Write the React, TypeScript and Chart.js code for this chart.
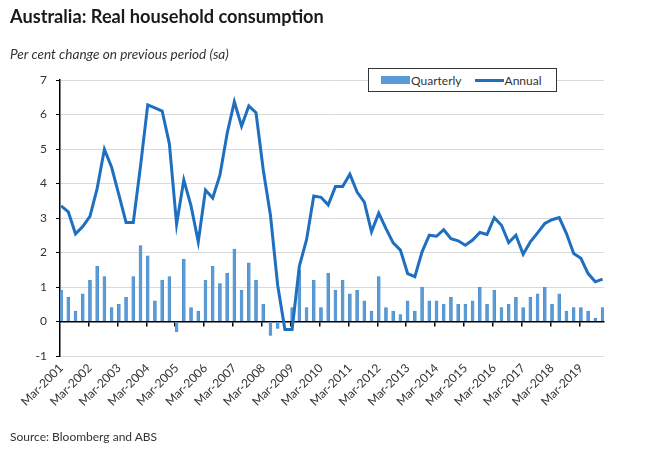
import React, { useEffect, useRef } from "react";
import Chart from "chart.js/auto";

// one label per year, shown under the first quarter of each year
const tickLabels = [
  "Mar-2001", "Mar-2002", "Mar-2003", "Mar-2004", "Mar-2005", "Mar-2006", "Mar-2007",
  "Mar-2008", "Mar-2009", "Mar-2010", "Mar-2011", "Mar-2012", "Mar-2013", "Mar-2014",
  "Mar-2015", "Mar-2016", "Mar-2017", "Mar-2018", "Mar-2019",
];
const months = ["Mar", "Jun", "Sep", "Dec"];
const quarters = tickLabels.flatMap((l) => months.map((m) => m + l.slice(3)));

// quarterly % change (bars)
const quarterly = [
  0.9, 0.7, 0.3, 0.8, 1.2, 1.6, 1.3, 0.4, 0.5, 0.7,
  1.3, 2.2, 1.9, 0.6, 1.2, 1.3, -0.3, 1.8, 0.4, 0.3,
  1.2, 1.6, 1.1, 1.4, 2.1, 0.9, 1.7, 1.2, 0.5, -0.4,
  -0.2, 0.0, 0.4, 1.5, 0.4, 1.2, 0.4, 1.4, 0.9, 1.2,
  0.8, 0.9, 0.6, 0.3, 1.3, 0.4, 0.3, 0.2, 0.6, 0.3,
  1.0, 0.6, 0.6, 0.5, 0.7, 0.5, 0.5, 0.6, 1.0, 0.5,
  0.9, 0.4, 0.5, 0.7, 0.4, 0.7, 0.8, 1.0, 0.5, 0.8,
  0.3, 0.4, 0.4, 0.3, 0.1, 0.4,
];

// annual % change (line)
const annual = [
  3.35, 3.18, 2.54, 2.75, 3.05, 3.86, 4.99, 4.47, 3.68, 2.87,
  2.87, 4.5, 6.28, 6.19, 6.1, 5.15, 2.82, 4.1, 3.35, 2.31,
  3.81, 3.58, 4.24, 5.45, 6.37, 5.66, 6.25, 6.05, 4.4, 3.08,
  1.05, -0.23, -0.23, 1.6, 2.37, 3.64, 3.6, 3.38, 3.91, 3.91,
  4.27, 3.75, 3.46, 2.6, 3.14, 2.69, 2.28, 2.07, 1.39, 1.3,
  2.02, 2.5, 2.47, 2.66, 2.4, 2.34, 2.21, 2.36, 2.58, 2.52,
  3.01, 2.79, 2.29, 2.5, 1.95, 2.31, 2.57, 2.84, 2.95, 3.01,
  2.55, 1.97, 1.83, 1.39, 1.15, 1.23,
];

const labelIdx = tickLabels.map((_, k) => k * 4);
const yearMarks = tickLabels.slice(1).map((_, k) => (k + 1) * 4 - 0.2);

const xMin = -0.15;
const xMax = 75.2;
const barBlue = "#5b9bd5";
const lineBlue = "#1f6fc0";
const textCol = "#333333";
const font = "Lato, 'Open Sans', sans-serif";

export default function App() {
  const canvasRef = useRef<HTMLCanvasElement | null>(null);

  useEffect(() => {
    if (!canvasRef.current) return;
    const chart = new Chart(canvasRef.current, {
      type: "bar",
      data: {
        datasets: [
          {
            type: "line",
            label: "Annual",
            data: annual.map((v, i) => ({ x: i, y: v })),
            borderColor: lineBlue,
            borderWidth: 3,
            pointRadius: 0,
            tension: 0,
            order: 1,
          },
          {
            type: "bar",
            label: "Quarterly",
            data: quarterly.map((v, i) => ({ x: i, y: v })),
            backgroundColor: barBlue,
            borderColor: "#4a8bc9",
            borderWidth: 0.5,
            barThickness: 3,
            order: 2,
          },
        ] as any,
      },
      options: {
        responsive: false,
        animation: false,
        layout: { padding: { top: 80, right: 46, left: 0, bottom: 0 } },
        plugins: { legend: { display: false }, tooltip: { enabled: false } },
        scales: {
          x: {
            type: "linear",
            min: xMin,
            max: xMax,
            offset: false,
            grid: { display: false, drawTicks: false, offset: false },
            border: { display: false },
            afterBuildTicks: (s: any) => {
              s.ticks = labelIdx.map((v) => ({ value: v }));
            },
            afterFit: (s: any) => {
              s.height = 99;
            },
            ticks: {
              autoSkip: false,
              maxRotation: 45,
              minRotation: 45,
              padding: 5,
              color: textCol,
              font: { family: font, size: 12 },
              callback: (v: any) => quarters[Number(v)],
            },
          },
          xz: {
            type: "linear",
            min: xMin,
            max: xMax,
            offset: false,
            position: { y: 0 },
            afterBuildTicks: (s: any) => {
              s.ticks = yearMarks.map((v) => ({ value: v }));
            },
            ticks: { display: false },
            grid: {
              drawOnChartArea: false,
              drawTicks: true,
              tickLength: 4,
              color: "#000",
              lineWidth: 1.5,
              offset: false,
            },
            border: { color: "#000", width: 1.5 },
          },
          y: {
            min: -1,
            max: 7,
            ticks: {
              stepSize: 1,
              padding: 9,
              color: textCol,
              font: { family: font, size: 12 },
            },
            grid: { color: "#d9d9d9", lineWidth: 1, tickColor: "#000", tickLength: 4 },
            border: { color: "#000", width: 1.5 },
            afterFit: (s: any) => {
              s.width = 60;
            },
          },
        } as any,
      },
    });
    return () => chart.destroy();
  }, []);

  return (
    <div
      style={{
        position: "absolute",
        left: 0,
        top: 0,
        width: 650,
        height: 455,
        background: "#fff",
        fontFamily: font,
        color: textCol,
      }}
    >
      <canvas
        ref={canvasRef}
        width={650}
        height={455}
        style={{ position: "absolute", left: 0, top: 0 }}
      />
      <div
        style={{
          position: "absolute",
          left: 10,
          top: 5,
          fontSize: 18.2,
          fontWeight: 700,
          color: "#1a1a1a",
          whiteSpace: "nowrap",
        }}
      >
        Australia: Real household consumption
      </div>
      <div
        style={{
          position: "absolute",
          left: 10,
          top: 46,
          fontSize: 13.6,
          fontStyle: "italic",
          whiteSpace: "nowrap",
        }}
      >
        Per cent change on previous period (sa)
      </div>
      <div
        style={{
          position: "absolute",
          left: 368,
          top: 68,
          width: 187,
          height: 22,
          border: "1px solid #333",
          background: "#fff",
          display: "flex",
          alignItems: "center",
          fontSize: 12,
          whiteSpace: "nowrap",
        }}
      >
        <span
          style={{
            display: "inline-block",
            width: 29,
            height: 8,
            background: barBlue,
            marginLeft: 12,
          }}
        />
        <span style={{ marginLeft: 1 }}>Quarterly</span>
        <span
          style={{
            display: "inline-block",
            width: 29,
            height: 3,
            background: lineBlue,
            marginLeft: 13,
          }}
        />
        <span style={{ marginLeft: 1 }}>Annual</span>
      </div>
      <div
        style={{
          position: "absolute",
          left: 10,
          top: 429,
          fontSize: 12,
          whiteSpace: "nowrap",
        }}
      >
        Source: Bloomberg and ABS
      </div>
    </div>
  );
}
